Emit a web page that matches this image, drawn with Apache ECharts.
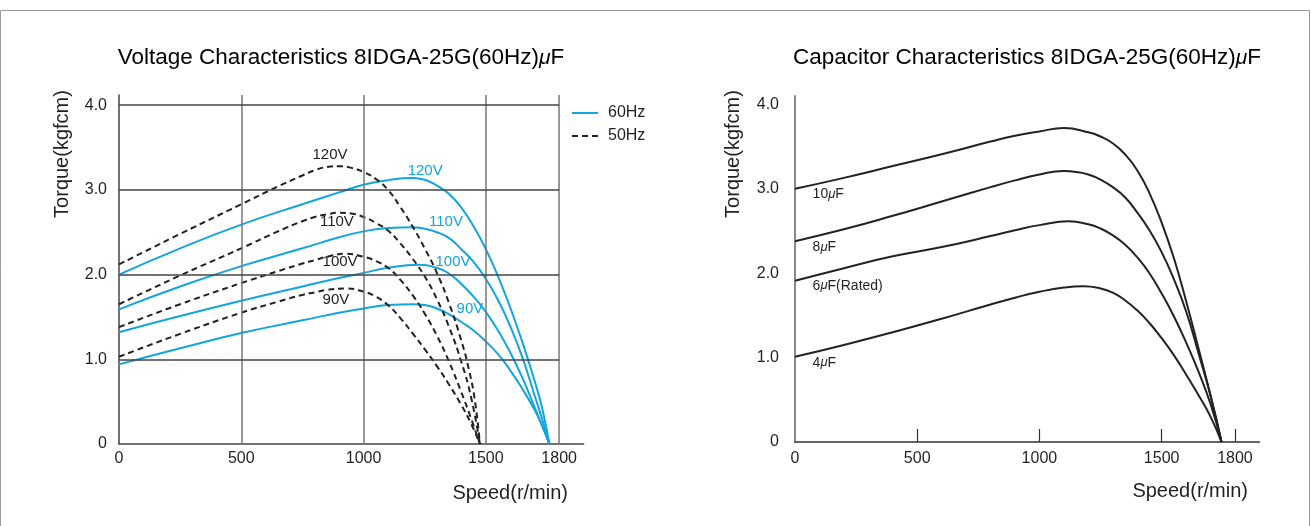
<!DOCTYPE html>
<html>
<head>
<meta charset="utf-8">
<script src="https://cdn.jsdelivr.net/npm/echarts@6/dist/echarts.min.js"></script>
<style>
html,body{margin:0;padding:0;background:#fff;}
#c{width:1311px;height:526px;}
</style>
</head>
<body>
<div id="c"></div>
<script>
// ---------- data ----------
const speedTicks = [0, 500, 1000, 1500, 1800];
const torqueTicks = [0, 1, 2, 3, 4];
const speedGridLines = [500, 1000, 1500, 1800];
const torqueGridLines = [1, 2, 3, 4];

// Voltage characteristics, 60Hz (solid blue)  [speed r/min, torque kgfcm]
const v60_120 = [[0,2.00],[250,2.31],[500,2.59],[750,2.83],[900,2.97],[1000,3.06],[1100,3.115],[1200,3.14],[1250,3.12],[1300,3.05],[1350,2.95],[1400,2.79],[1450,2.57],[1500,2.30],[1550,1.98],[1600,1.61],[1650,1.20],[1700,0.74],[1730,0.43],[1760,0]];
const v60_110 = [[0,1.59],[250,1.86],[500,2.10],[750,2.31],[900,2.44],[1000,2.51],[1100,2.55],[1200,2.56],[1250,2.54],[1300,2.50],[1350,2.43],[1400,2.30],[1450,2.15],[1500,1.95],[1550,1.70],[1600,1.39],[1650,1.02],[1700,0.57],[1730,0.30],[1760,0]];
const v60_100 = [[0,1.32],[250,1.51],[500,1.69],[750,1.86],[900,1.96],[1000,2.02],[1100,2.08],[1225,2.115],[1300,2.08],[1350,2.01],[1400,1.89],[1450,1.74],[1500,1.56],[1550,1.34],[1600,1.08],[1650,0.78],[1700,0.43],[1730,0.22],[1760,0]];
const v60_90  = [[0,0.94],[250,1.13],[500,1.31],[750,1.46],[900,1.55],[1000,1.60],[1100,1.64],[1200,1.65],[1250,1.64],[1300,1.60],[1350,1.53],[1400,1.44],[1450,1.34],[1500,1.21],[1550,1.06],[1600,0.87],[1650,0.65],[1700,0.40],[1730,0.22],[1760,0]];
// Voltage characteristics, 50Hz (dashed black)
const v50_120 = [[0,2.12],[250,2.48],[500,2.83],[650,3.04],[750,3.17],[800,3.23],[850,3.27],[900,3.28],[950,3.26],[1000,3.21],[1050,3.13],[1100,3.00],[1150,2.80],[1200,2.57],[1250,2.31],[1300,2.02],[1350,1.66],[1400,1.22],[1430,0.89],[1455,0.52],[1476,0]];
const v50_110 = [[0,1.65],[250,1.99],[500,2.31],[650,2.51],[750,2.63],[800,2.68],[850,2.71],[900,2.73],[950,2.72],[1000,2.68],[1050,2.61],[1100,2.52],[1150,2.37],[1200,2.19],[1250,1.98],[1300,1.71],[1350,1.38],[1400,0.97],[1440,0.55],[1476,0]];
const v50_100 = [[0,1.38],[250,1.65],[500,1.90],[650,2.04],[750,2.13],[800,2.17],[850,2.21],[925,2.245],[1000,2.21],[1050,2.16],[1100,2.08],[1150,1.94],[1200,1.76],[1250,1.54],[1300,1.28],[1350,0.97],[1400,0.61],[1440,0.30],[1476,0]];
const v50_90  = [[0,1.03],[250,1.30],[500,1.55],[650,1.68],[750,1.76],[800,1.79],[850,1.82],[925,1.835],[1000,1.80],[1050,1.74],[1100,1.64],[1150,1.49],[1200,1.31],[1250,1.12],[1300,0.92],[1350,0.70],[1400,0.46],[1440,0.24],[1476,0]];
const voltageNames = ['120V', '110V', '100V', '90V'];

// Capacitor characteristics
const c10 = [[0,3.00],[200,3.13],[400,3.27],[600,3.41],[800,3.56],[900,3.63],[1000,3.68],[1100,3.72],[1200,3.67],[1250,3.62],[1300,3.54],[1350,3.41],[1400,3.22],[1450,2.95],[1500,2.60],[1550,2.18],[1600,1.67],[1650,1.12],[1700,0.55],[1745,0]];
const c8  = [[0,2.38],[200,2.52],[400,2.68],[600,2.85],[800,3.02],[900,3.10],[1000,3.17],[1100,3.21],[1150,3.20],[1200,3.17],[1250,3.11],[1300,3.02],[1350,2.90],[1400,2.72],[1450,2.51],[1500,2.25],[1550,1.93],[1600,1.55],[1650,1.06],[1700,0.55],[1745,0]];
const c6  = [[0,1.91],[200,2.06],[400,2.20],[600,2.31],[800,2.44],[900,2.51],[1000,2.57],[1120,2.615],[1200,2.58],[1250,2.53],[1300,2.45],[1350,2.34],[1400,2.19],[1450,2.00],[1500,1.76],[1550,1.49],[1600,1.18],[1650,0.84],[1700,0.45],[1745,0]];
const c4  = [[0,1.01],[200,1.15],[400,1.30],[600,1.46],[800,1.63],[900,1.71],[1000,1.78],[1100,1.83],[1180,1.845],[1250,1.82],[1300,1.77],[1350,1.68],[1400,1.56],[1450,1.41],[1500,1.23],[1550,1.03],[1600,0.80],[1650,0.56],[1700,0.30],[1745,0]];
const capNames = [['10', ''], ['8', ''], ['6', '(Rated)'], ['4', '']];

// ---------- styles ----------
const FONT = "'Liberation Sans', Arial, Helvetica, sans-serif";
const BLUE = '#12a5e0';
const BLACK = '#222';
const TXT = '#231f20';

const chart = echarts.init(document.getElementById('c'), null, {renderer: 'canvas'});

function yLabel(v) {
  if (!torqueTicks.includes(v)) return '';
  return v === 0 ? '0' : v.toFixed(1);
}
function xLabel(v) { return String(v); }

function voltLabel(text, color, coord) {
  return {
    symbol: 'rect', symbolSize: 1, silent: true,
    itemStyle: {color: 'rgba(0,0,0,0)'},
    label: {show: true, position: 'inside', formatter: text, color: color, fontSize: 15, fontFamily: FONT},
    data: [{coord: coord}]
  };
}
function capLabel(idx, coord) {
  const n = capNames[idx];
  return {
    symbol: 'rect', symbolSize: 1, silent: true,
    itemStyle: {color: 'rgba(0,0,0,0)'},
    label: {
      show: true, position: 'right', distance: 0,
      formatter: '{n|' + n[0] + '}{u|μ}{n|F' + n[1] + '}',
      rich: {
        n: {fontSize: 14, fontFamily: FONT, color: TXT},
        u: {fontSize: 13, fontFamily: FONT, fontStyle: 'italic', color: TXT}
      }
    },
    data: [{coord: coord}]
  };
}

const v60 = [v60_120, v60_110, v60_100, v60_90];
const v50 = [v50_120, v50_110, v50_100, v50_90];
const blueLabelPos = [[1252,3.23],[1337,2.62],[1366,2.15],[1435,1.60]];
const blackLabelPos = [[863,3.41],[891,2.62],[904,2.15],[887,1.70]];
const capData = [c10, c8, c6, c4];
const capLabelPos = [[70,2.94],[70,2.31],[70,1.85],[70,0.94]];

const SMOOTH = 0.5;
const series = [];
// grid lines for left chart
series.push({
  type: 'line', xAxisIndex: 0, yAxisIndex: 0, data: [], z: 1, silent: true,
  markLine: {
    silent: true, symbol: 'none', label: {show: false},
    data: speedGridLines.map(s => [{coord: [s, 0], lineStyle: {color: '#777', width: 1.5, type: 'solid'}}, {coord: [s, 4.12]}])
      .concat(torqueGridLines.map(t => [{coord: [0, t], lineStyle: {color: '#444', width: 1.5, type: 'solid'}}, {coord: [1800, t]}]))
  }
});
v60.forEach((d, i) => series.push({
  name: '60Hz', type: 'line', xAxisIndex: 0, yAxisIndex: 0, data: d,
  smooth: SMOOTH, symbol: 'none', z: 3,
  lineStyle: {color: BLUE, width: 2},
  itemStyle: {color: BLUE},
  markPoint: voltLabel(voltageNames[i], BLUE, blueLabelPos[i])
}));
v50.forEach((d, i) => series.push({
  name: '50Hz', type: 'line', xAxisIndex: 0, yAxisIndex: 0, data: d,
  smooth: SMOOTH, symbol: 'none', z: 3,
  lineStyle: {color: BLACK, width: 2, type: [6, 4]},
  itemStyle: {color: BLACK},
  markPoint: voltLabel(voltageNames[i], BLACK, blackLabelPos[i])
}));
capData.forEach((d, i) => series.push({
  name: 'cap' + i, type: 'line', xAxisIndex: 1, yAxisIndex: 1, data: d,
  smooth: SMOOTH, symbol: 'none', z: 3,
  lineStyle: {color: BLACK, width: 2},
  markPoint: capLabel(i, capLabelPos[i])
}));

function titleText(main) {
  return '{a|' + main + '}{m|μ}{a|F}';
}
const titleRich = {
  a: {fontSize: 22.5, fontFamily: FONT, color: TXT},
  m: {fontSize: 21, fontFamily: FONT, color: TXT, fontStyle: 'italic'}
};

const option = {
  animation: false,
  backgroundColor: '#fff',
  textStyle: {fontFamily: FONT},
  grid: [
    {left: 119, top: 95, width: 464.6, height: 349},
    {left: 795, top: 96, width: 464.4, height: 346}
  ],
  legend: {
    data: ['60Hz', '50Hz'], orient: 'vertical', left: 571, top: 105, padding: 0,
    itemWidth: 26, itemHeight: 14, itemGap: 7, selectedMode: false,
    itemStyle: {opacity: 0},
    textStyle: {fontSize: 16, color: TXT, fontFamily: FONT, padding: [0, 0, 0, 5]}
  },
  xAxis: [
    {
      type: 'value', gridIndex: 0, min: 0, max: 1900,
      axisLine: {show: true, lineStyle: {color: '#444', width: 1.5}},
      axisTick: {show: false},
      splitLine: {show: false},
      axisLabel: {customValues: speedTicks, formatter: xLabel, fontSize: 16, color: TXT, margin: 7, fontFamily: FONT}
    },
    {
      type: 'value', gridIndex: 1, min: 0, max: 1900,
      axisLine: {show: true, lineStyle: {color: '#333', width: 1.5}},
      axisTick: {show: true, inside: true, length: 13, customValues: speedGridLines, lineStyle: {color: '#333', width: 1.2}},
      splitLine: {show: false},
      axisLabel: {customValues: speedTicks, formatter: xLabel, fontSize: 16, color: TXT, margin: 9, fontFamily: FONT}
    }
  ],
  yAxis: [
    {
      type: 'value', gridIndex: 0, min: 0, max: 4.12, interval: 1,
      axisLine: {show: true, lineStyle: {color: '#444', width: 1.5}},
      axisTick: {show: false}, splitLine: {show: false},
      axisLabel: {formatter: yLabel, fontSize: 16, color: TXT, margin: 12, fontFamily: FONT}
    },
    {
      type: 'value', gridIndex: 1, min: 0, max: 4.1, interval: 1,
      axisLine: {show: true, lineStyle: {color: '#888', width: 2}},
      axisTick: {show: false}, splitLine: {show: false},
      axisLabel: {formatter: yLabel, fontSize: 16, color: TXT, margin: 16, fontFamily: FONT}
    }
  ],
  graphic: [
    {type: 'rect', shape: {x: 0.5, y: 10.5, width: 1309, height: 600}, style: {fill: 'none', stroke: '#9a9a9a', lineWidth: 1}, silent: true, z: 0},
    {type: 'text', x: 341, y: 58, style: {text: titleText('Voltage Characteristics 8IDGA-25G(60Hz)'), rich: titleRich, align: 'center', verticalAlign: 'middle'}},
    {type: 'text', x: 1027, y: 58, style: {text: titleText('Capacitor Characteristics 8IDGA-25G(60Hz)'), rich: titleRich, align: 'center', verticalAlign: 'middle'}},
    {type: 'text', x: 62, y: 154, rotation: Math.PI / 2, style: {text: 'Torque(kgfcm)', fontSize: 20, fontFamily: FONT, fill: TXT, align: 'center', verticalAlign: 'middle'}},
    {type: 'text', x: 733, y: 154, rotation: Math.PI / 2, style: {text: 'Torque(kgfcm)', fontSize: 20, fontFamily: FONT, fill: TXT, align: 'center', verticalAlign: 'middle'}},
    {type: 'text', x: 568, y: 493, style: {text: 'Speed(r/min)', fontSize: 20, fontFamily: FONT, fill: TXT, align: 'right', verticalAlign: 'middle'}},
    {type: 'text', x: 1248, y: 491, style: {text: 'Speed(r/min)', fontSize: 20, fontFamily: FONT, fill: TXT, align: 'right', verticalAlign: 'middle'}}
  ],
  series: series
};
chart.setOption(option);
</script>
</body>
</html>
